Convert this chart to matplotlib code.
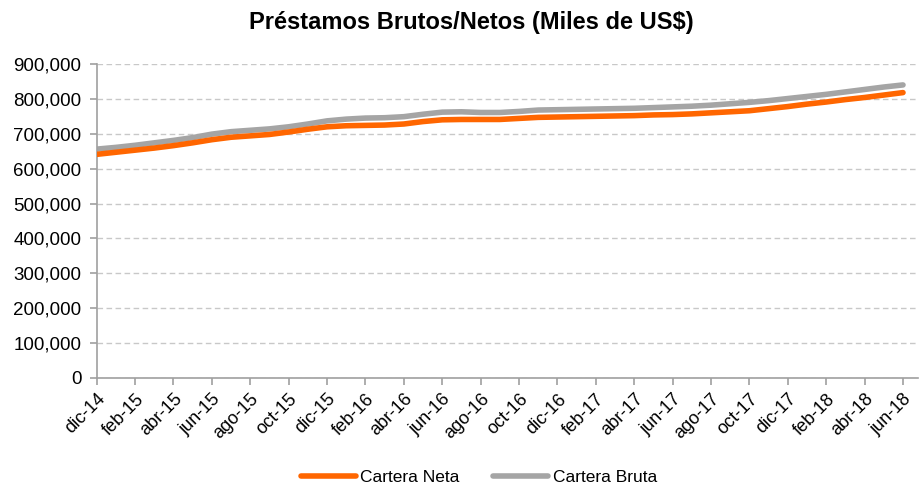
import matplotlib
matplotlib.use("Agg")
import matplotlib.pyplot as plt
import matplotlib.transforms as mtransforms
import numpy as np

plt.rcParams['font.family'] = ['Liberation Sans', 'DejaVu Sans']

months = ['dic-14', 'ene-15', 'feb-15', 'mar-15', 'abr-15', 'may-15', 'jun-15', 'jul-15',
          'ago-15', 'sep-15', 'oct-15', 'nov-15', 'dic-15', 'ene-16', 'feb-16', 'mar-16',
          'abr-16', 'may-16', 'jun-16', 'jul-16', 'ago-16', 'sep-16', 'oct-16', 'nov-16',
          'dic-16', 'ene-17', 'feb-17', 'mar-17', 'abr-17', 'may-17', 'jun-17', 'jul-17',
          'ago-17', 'sep-17', 'oct-17', 'nov-17', 'dic-17', 'ene-18', 'feb-18', 'mar-18',
          'abr-18', 'may-18', 'jun-18']

cartera_neta = [641, 647, 653, 659, 666, 674, 683, 690, 694, 698, 705, 713, 720, 723,
                724, 725, 728, 735, 740, 741, 741, 741, 744, 747, 748, 749, 750, 751,
                752, 754, 755, 757, 760, 763, 766, 772, 778, 785, 791, 798, 804, 811, 818]
cartera_bruta = [656, 661, 667, 674, 681, 689, 699, 706, 710, 714, 720, 728, 737, 742,
                 745, 746, 749, 756, 762, 763, 761, 761, 764, 768, 769, 770, 771, 772,
                 773, 775, 777, 779, 782, 786, 790, 795, 801, 807, 813, 820, 827, 834, 840]
cartera_neta = [v * 1000 for v in cartera_neta]
cartera_bruta = [v * 1000 for v in cartera_bruta]

yticks = list(range(0, 900001, 100000))

fig = plt.figure(figsize=(9.19, 4.90), dpi=100)
ax = fig.add_axes([0.1052, 0.2286, 0.8937, 0.6408])

x = np.arange(len(months))
l1, = ax.plot(x, cartera_neta, color='#FF6600', lw=4.0, solid_capstyle='round',
              solid_joinstyle='round', label='Cartera Neta', zorder=3)
l2, = ax.plot(x, cartera_bruta, color='#A5A5A5', lw=4.0, solid_capstyle='round',
              solid_joinstyle='round', label='Cartera Bruta', zorder=2)

ax.set_ylim(0, 900000)
ax.set_xlim(0, 42.78)
ax.set_yticks(yticks)
ax.set_yticklabels([f"{v:,}" for v in yticks], fontsize=13.5)
ax.set_xticks(x[::2])
ax.set_xticklabels(months[::2], rotation=45, ha='right', rotation_mode='anchor', fontsize=13)
offset = mtransforms.ScaledTranslation(7 / 100, 4 / 100, fig.dpi_scale_trans)
for lab in ax.get_xticklabels():
    lab.set_transform(lab.get_transform() + offset)

ax.grid(axis='y', color='#C8C8C8', linestyle=(0, (4, 2.5)), lw=1.0, zorder=0)
for s in ['top', 'right']:
    ax.spines[s].set_visible(False)
for s in ['left', 'bottom']:
    ax.spines[s].set_color('#A0A0A0')
    ax.spines[s].set_linewidth(1.2)
ax.tick_params(axis='both', colors='#A0A0A0', labelcolor='black', length=5, width=1.2)
ax.tick_params(axis='y', pad=6)
ax.tick_params(axis='x', pad=4)

fig.text(0.5125, 0.955, 'Préstamos Brutos/Netos (Miles de US$)', ha='center', va='center',
         fontsize=17, fontweight='bold')

fig.legend(handles=[l1, l2], loc='center', bbox_to_anchor=(0.521, 0.025), ncol=2,
           frameon=False, fontsize=12.5, handlelength=3.2, handletextpad=0.25,
           columnspacing=1.9)

fig.savefig('out.png', dpi=100)
